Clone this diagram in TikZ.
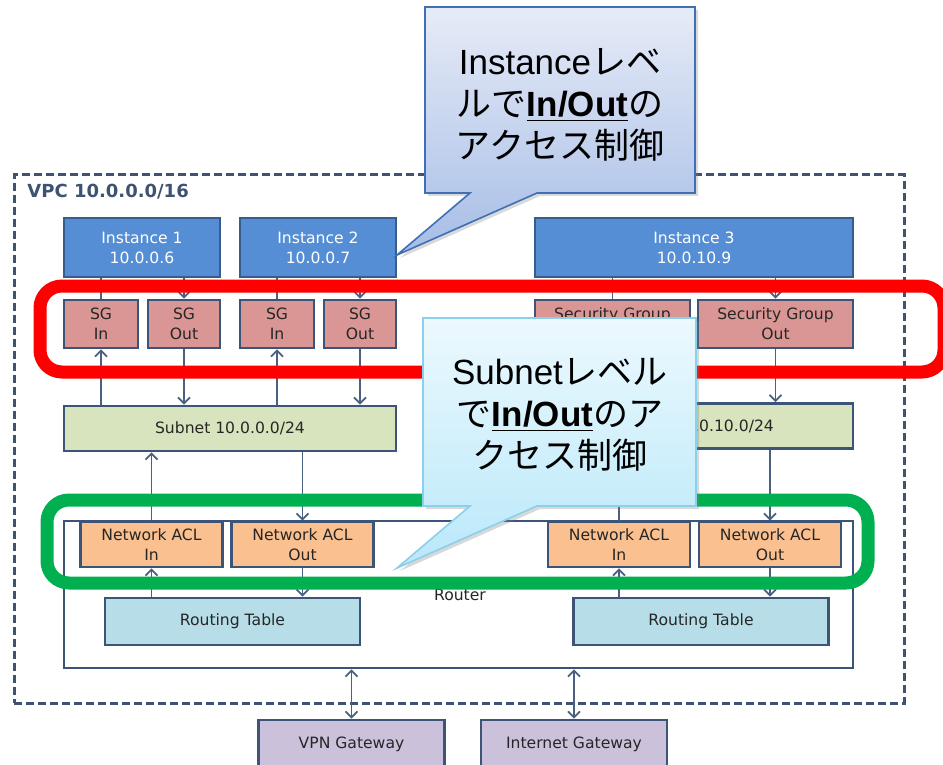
\documentclass[tikz,border=0pt]{standalone}
\usepackage{fontspec}
\setmainfont{DejaVu Sans}
\newfontfamily\calloutfont{Liberation Sans}
\newfontfamily\jpfont{Noto Sans CJK JP}
\usepackage{tikz}
\usetikzlibrary{arrows,arrows.meta,shadows,calc}
\definecolor{edgeblue}{HTML}{3C5478}
\definecolor{arrowblue}{HTML}{4A6080}
\definecolor{vpcdash}{HTML}{3E5372}
\definecolor{textgray}{HTML}{262626}
\definecolor{instfill}{HTML}{558ED5}
\definecolor{instedge}{HTML}{385D8A}
\definecolor{sgfill}{HTML}{D99694}
\definecolor{subfill}{HTML}{D7E4BD}
\definecolor{aclfill}{HTML}{FAC090}
\definecolor{rtfill}{HTML}{B7DEE8}
\definecolor{gwfill}{HTML}{CCC1DA}
\definecolor{frameRed}{HTML}{FF0000}
\definecolor{frameGreen}{HTML}{00B050}
\definecolor{callAtop}{HTML}{E6EBF7}
\definecolor{callAbot}{HTML}{A6BDE6}
\definecolor{callAedge}{HTML}{3F6FB5}
\definecolor{callBtop}{HTML}{ECF9FE}
\definecolor{callBbot}{HTML}{B9E8FA}
\definecolor{callBedge}{HTML}{8CCFEA}
\newcommand{\boxfont}{\fontsize{7.8}{10}\selectfont}
\newcommand{\callfont}{\calloutfont\fontsize{17.5}{21}\selectfont}
\newcommand{\jtext}[1]{{\jpfont #1}}

\begin{document}
\begin{tikzpicture}[x=0.5pt,y=-0.5pt,>={Straight Barb[length=3pt,width=6pt]},
    box/.style={draw=edgeblue,line width=1.3pt,inner sep=0pt,align=center,font=\boxfont,text=textgray},
    inst/.style={box,draw=instedge,fill=instfill,text=white,minimum height=29.5pt},
    sg/.style={box,fill=sgfill,minimum height=24pt},
    subnet/.style={box,fill=subfill,minimum height=22.5pt},
    acl/.style={box,fill=aclfill,minimum width=71pt,minimum height=22.5pt},
    rtable/.style={box,fill=rtfill,minimum width=127.5pt,minimum height=23.5pt},
    gw/.style={box,fill=gwfill,minimum width=93pt,minimum height=24pt},
    link/.style={draw=arrowblue,line width=0.9pt},
    frame/.style={line width=6.5pt,rounded corners=11pt},
    callout/.style={line width=0.8pt,drop shadow={shadow xshift=1.5pt,shadow yshift=-1.5pt,opacity=0.3}},
    calltext/.style={align=center,font=\callfont,text=black,inner sep=0pt}]
  \useasboundingbox (0,0) rectangle (943,765);
  % VPC
  \node[draw=vpcdash,line width=1.5pt,dash pattern=on 4pt off 2pt,minimum width=445pt,minimum height=264pt] (vpc) at (459,439) {};
  \node[anchor=west,font=\fontsize{9}{10}\selectfont\bfseries,text=vpcdash,inner sep=0pt] (vpclbl) at (27,192) {VPC 10.0.0.0/16};
  % router
  \node[box,fill=white,minimum width=394.5pt,minimum height=73.5pt] (router) at (458.5,594.5) {};
  \node[font=\boxfont,text=textgray,inner sep=0pt] (routerlbl) at (460,595) {Router};
  % instances
  \node[inst,minimum width=78pt] (inst1) at (142,247.5) {Instance 1\\10.0.0.6};
  \node[inst,minimum width=78pt] (inst2) at (318,247.5) {Instance 2\\10.0.0.7};
  \node[inst,minimum width=159pt] (inst3) at (694,247.5) {Instance 3\\10.0.10.9};
  % security groups
  \node[sg,minimum width=37pt] (sgin1) at (101,324) {SG\\In};
  \node[sg,minimum width=36pt] (sgout1) at (184,324) {SG\\Out};
  \node[sg,minimum width=37pt] (sgin2) at (277,324) {SG\\In};
  \node[sg,minimum width=36pt] (sgout2) at (360,324) {SG\\Out};
  \node[sg,minimum width=77.5pt] (sgin3) at (612.5,324) {Security Group\\In};
  \node[sg,minimum width=77.5pt] (sgout3) at (775.5,324) {Security Group\\Out};
  % subnets
  \node[subnet,minimum width=166pt] (sub1) at (230,428.5) {Subnet 10.0.0.0/24};
  \node[subnet,minimum width=159pt] (sub2) at (694,426) {Subnet 10.0.10.0/24};
  % network ACLs
  \node[acl] (aclin1) at (151.5,544.5) {Network ACL\\In};
  \node[acl] (aclout1) at (302.5,544.5) {Network ACL\\Out};
  \node[acl] (aclin2) at (619,544.5) {Network ACL\\In};
  \node[acl] (aclout2) at (770,544.5) {Network ACL\\Out};
  % routing tables
  \node[rtable] (rt1) at (232.5,621.5) {Routing Table};
  \node[rtable] (rt2) at (701,621.5) {Routing Table};
  % gateways
  \node[gw] (vpngw) at (351.5,744) {VPN Gateway};
  \node[gw] (igw) at (574,744) {Internet Gateway};

  % instance <-> security groups <-> subnet
  \foreach \i/\s in {1/1,2/1,3/2}{
    \draw[link] (sgin\i.north) -- (inst\i.south -| sgin\i);
    \draw[link,->] (inst\i.south -| sgout\i) -- (sgout\i.north);
    \draw[link,->] (sub\s.north -| sgin\i) -- (sgin\i.south);
    \draw[link,->] (sgout\i.south) -- (sub\s.north -| sgout\i);
  }
  % subnet <-> ACLs <-> routing table
  \foreach \i in {1,2}{
    \draw[link,->] (aclin\i.north) -- (sub\i.south -| aclin\i);
    \draw[link,->] (sub\i.south -| aclout\i) -- (aclout\i.north);
    \draw[link,->] (rt\i.north -| aclin\i) -- (aclin\i.south);
    \draw[link,->] (aclout\i.south) -- (rt\i.north -| aclout\i);
  }
  \draw[link,<->] (router.south -| vpngw) -- (vpngw.north);
  \draw[link,<->] (router.south -| igw) -- (igw.north);

  % highlight frames
  \draw[frame,draw=frameRed] (40,286) rectangle (944,372);
  \draw[frame,draw=frameGreen] (47,500) rectangle (868,583);

  % callouts
  \path[callout,draw=callAedge,top color=callAtop,bottom color=callAbot]
    (425,7) -- (695,7) -- (695,193) -- (537,193) -- (397,255) -- (470,193) -- (425,193) -- cycle;
  \node[calltext] (lvlinst) at (560,105) {Instance\jtext{レベ}\\\jtext{ルで}\underline{\textbf{In/Out}}\jtext{の}\\\jtext{アクセス制御}};
  \path[callout,draw=callBedge,top color=callBtop,bottom color=callBbot]
    (423,318) -- (696,318) -- (696,506) -- (537,506) -- (397,568) -- (470,506) -- (423,506) -- cycle;
  \node[calltext] (lvlsub) at (560,415) {Subnet\jtext{レベル}\\\jtext{で}\underline{\textbf{In/Out}}\jtext{のア}\\\jtext{クセス制御}};
\end{tikzpicture}
\end{document}
